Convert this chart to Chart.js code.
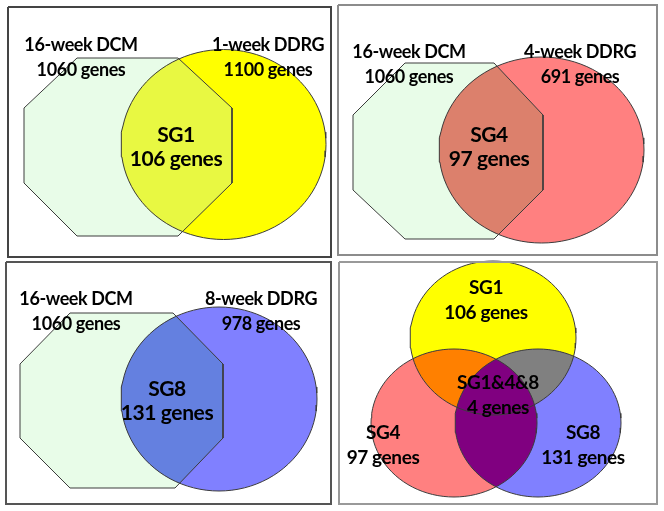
<!DOCTYPE html>
<html>
<head>
<meta charset="utf-8">
<script src="https://cdn.jsdelivr.net/npm/chart.js@4.4.1/dist/chart.umd.min.js"></script>
<style>
  html, body { margin: 0; padding: 0; background: #fff; }
  #wrap { position: relative; width: 664px; height: 511px; }
</style>
</head>
<body>
<div id="wrap"><canvas id="venn" width="664" height="511"></canvas></div>
<script>
// ===============================
// Data (gene counts)
// ===============================
const dcmLabel = '16-week DCM';
const dcmGenes = 1060;
const ddrgLabels = ['1-week DDRG', '4-week DDRG', '8-week DDRG'];
const ddrgGenes = [1100, 691, 978];
const sgNames = ['SG1', 'SG4', 'SG8'];
const sgGenes = [106, 97, 131];
const coreName = 'SG1&4&8';
const coreGenes = 4;

// ===============================
// Layout (page pixels) + colours
// ===============================
const FONT = 'Lato';
const OUTLINE = '#3c3c3c';

const pairPanels = [
  {
    box: [8, 7, 331, 257], boxColor: '#444',
    oct: [[77,58],[178,58],[232,108],[232,183],[178,236],[77,236],[24,183],[24,108]],
    ell: [223.5, 144.5, 102.5, 95],
    ellColor: '#ffff00', overlapColor: '#e8f842',
    dcmPos: [81, 45], ddrgPos: [268, 45], sgPos: [176, 135]
  },
  {
    box: [338, 5, 657, 255], boxColor: '#8c8c8c',
    oct: [[405,63],[494,63],[543,115],[543,190],[494,239],[405,239],[353,190],[353,115]],
    ell: [541.5, 150, 102.5, 93],
    ellColor: '#ff8080', overlapColor: '#dc806c',
    dcmPos: [409, 52], ddrgPos: [580, 52], sgPos: [489, 135]
  },
  {
    box: [6, 262, 331, 504], boxColor: '#555',
    oct: [[70,313],[173,313],[223,364],[223,438],[175,488],[70,488],[20,438],[20,364]],
    ell: [219, 399, 98, 92],
    ellColor: '#8080ff', overlapColor: '#6480e0',
    dcmPos: [76, 299], ddrgPos: [261, 299], sgPos: [167, 389]
  }
];

const triPanel = {
  box: [339, 262, 657, 504], boxColor: '#999',
  yellow: [493, 338, 83, 77],
  red: [454, 423, 83, 74],
  blue: [538, 423, 83, 74],
  sg1Pos: [486, 288], corePos: [498, 383], sg4Pos: [383, 433], sg8Pos: [583, 433]
};

// ===============================
// Geometry helpers
// ===============================
function ellipsePts([cx, cy, rx, ry], n = 96) {
  const pts = [];
  for (let i = 0; i < n; i++) {
    const a = (i / n) * Math.PI * 2;
    pts.push([cx + rx * Math.cos(a), cy + ry * Math.sin(a)]);
  }
  return pts;
}

// Sutherland-Hodgman against a convex clip polygon
function clipPoly(subject, clip) {
  let area = 0;
  for (let i = 0; i < clip.length; i++) {
    const [x1, y1] = clip[i], [x2, y2] = clip[(i + 1) % clip.length];
    area += x1 * y2 - x2 * y1;
  }
  const s = Math.sign(area);
  const inside = (p, a, b) => s * ((b[0]-a[0]) * (p[1]-a[1]) - (b[1]-a[1]) * (p[0]-a[0])) >= 0;
  const meet = (p, q, a, b) => {
    const dx = q[0]-p[0], dy = q[1]-p[1], ex = b[0]-a[0], ey = b[1]-a[1];
    const t = (ey * (p[0]-a[0]) - ex * (p[1]-a[1])) / (ex * dy - ey * dx);
    return [p[0] + t * dx, p[1] + t * dy];
  };
  let out = subject;
  for (let i = 0; i < clip.length; i++) {
    const a = clip[i], b = clip[(i + 1) % clip.length];
    const input = out;
    out = [];
    for (let j = 0; j < input.length; j++) {
      const p = input[j], q = input[(j + 1) % input.length];
      const pin = inside(p, a, b), qin = inside(q, a, b);
      if (pin) {
        out.push(p);
        if (!qin) out.push(meet(p, q, a, b));
      } else if (qin) {
        out.push(meet(p, q, a, b));
      }
    }
  }
  return out;
}

const toXY = pts => pts.concat([pts[0]]).map(([x, y]) => ({x, y}));

// ===============================
// Datasets (bottom first)
// ===============================
const datasets = [];
function fillShape(pts, color) {
  datasets.push({
    data: toXY(pts), showLine: true, fill: 'shape', backgroundColor: color,
    borderWidth: 0, borderColor: 'rgba(0,0,0,0)', pointRadius: 0, tension: 0
  });
}
function outline(pts, color, width) {
  datasets.push({
    data: toXY(pts), showLine: true, fill: false, borderColor: color,
    borderWidth: width, pointRadius: 0, tension: 0
  });
}
const rect = ([x1, y1, x2, y2]) => [[x1,y1],[x2,y1],[x2,y2],[x1,y2]];

pairPanels.forEach(p => {
  const ell = ellipsePts(p.ell);
  fillShape(p.oct, '#e8fce8');
  fillShape(ell, p.ellColor);
  fillShape(clipPoly(ell, p.oct), p.overlapColor);
  outline(p.oct, OUTLINE, 1);
  outline(ell, OUTLINE, 1);
  outline(rect(p.box), p.boxColor, 2);
});

const yel = ellipsePts(triPanel.yellow);
const red = ellipsePts(triPanel.red);
const blu = ellipsePts(triPanel.blue);
fillShape(yel, '#ffff00');
fillShape(red, '#ff8080');
fillShape(blu, '#8080ff');
fillShape(clipPoly(yel, red), '#ff8000');
fillShape(clipPoly(yel, blu), '#808080');
fillShape(clipPoly(red, blu), '#800080');
outline(yel, OUTLINE, 1);
outline(red, OUTLINE, 1);
outline(blu, OUTLINE, 1);
outline(rect(triPanel.box), triPanel.boxColor, 2);

datasets.forEach((d, i) => { d.order = datasets.length - i; });

// ===============================
// Text labels
// ===============================
const labels = [];
pairPanels.forEach((p, i) => {
  labels.push({text: dcmLabel, pos: p.dcmPos, size: 18});
  labels.push({text: dcmGenes + ' genes', pos: [p.dcmPos[0], p.dcmPos[1] + 25], size: 18});
  labels.push({text: ddrgLabels[i], pos: p.ddrgPos, size: 18});
  labels.push({text: ddrgGenes[i] + ' genes', pos: [p.ddrgPos[0], p.ddrgPos[1] + 25], size: 18});
  labels.push({text: sgNames[i], pos: p.sgPos, size: 21});
  labels.push({text: sgGenes[i] + ' genes', pos: [p.sgPos[0], p.sgPos[1] + 24], size: 21});
});
[[sgNames[0], sgGenes[0], triPanel.sg1Pos],
 [coreName, coreGenes, triPanel.corePos],
 [sgNames[1], sgGenes[1], triPanel.sg4Pos],
 [sgNames[2], sgGenes[2], triPanel.sg8Pos]].forEach(([name, n, pos]) => {
  labels.push({text: name, pos, size: 19});
  labels.push({text: n + ' genes', pos: [pos[0], pos[1] + 25], size: 19});
});

const labelPlugin = {
  id: 'vennLabels',
  afterDatasetsDraw(chart) {
    const {ctx, scales: {x, y}} = chart;
    ctx.save();
    ctx.fillStyle = '#000';
    ctx.textAlign = 'center';
    ctx.textBaseline = 'middle';
    ctx.letterSpacing = '-0.4px';
    labels.forEach(t => {
      ctx.font = `bold ${t.size}px ${FONT}`;
      ctx.fillText(t.text, x.getPixelForValue(t.pos[0]), y.getPixelForValue(t.pos[1]));
    });
    ctx.restore();
  }
};

new Chart(document.getElementById('venn').getContext('2d'), {
  type: 'scatter',
  data: {datasets},
  options: {
    responsive: false,
    animation: false,
    events: [],
    layout: {padding: 0},
    plugins: {legend: {display: false}, tooltip: {enabled: false}},
    scales: {
      x: {type: 'linear', min: 0, max: 664, display: false},
      y: {type: 'linear', min: 0, max: 511, reverse: true, display: false}
    }
  },
  plugins: [labelPlugin]
});
</script>
</body>
</html>
